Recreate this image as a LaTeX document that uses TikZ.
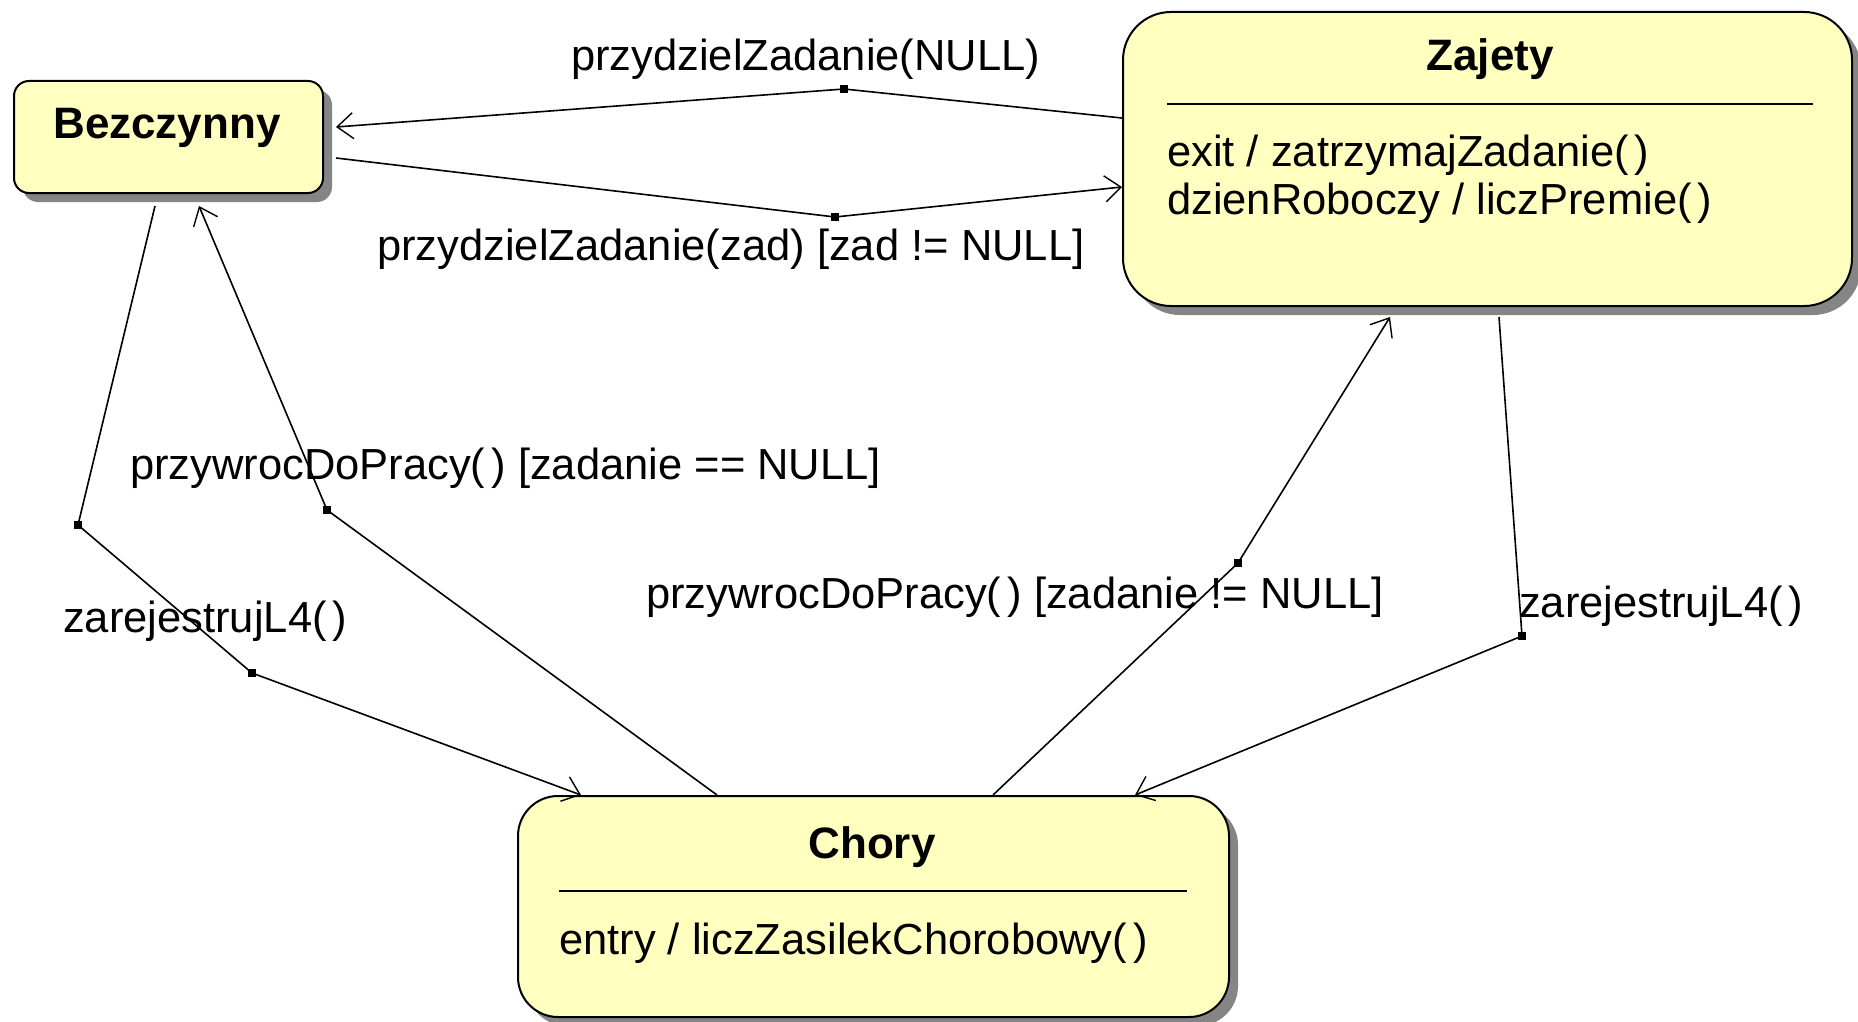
\documentclass[tikz,border=0pt]{standalone}
\usepackage{fontspec}
\setmainfont{Liberation Sans}
\usetikzlibrary{arrows.meta,shadows}
\definecolor{statefill}{HTML}{FFFFC0}
\definecolor{shadowgray}{HTML}{858585}
% empty argument list, set with a little air between the parentheses
\newcommand{\noargs}{(\kern0.14em)}
\begin{document}
\begin{tikzpicture}[x=1pt,y=-1pt,
  state/.style={rectangle, draw=black, line width=2pt, fill=statefill, inner sep=0pt,
    drop shadow={shadow xshift=9pt, shadow yshift=-9pt, fill=shadowgray, opacity=1}},
  title/.style={anchor=base, inner sep=0pt, font=\fontsize{44}{52}\selectfont\bfseries},
  body/.style={anchor=base west, inner sep=0pt, font=\fontsize{43.5}{50}\selectfont},
  trlabel/.style={anchor=base west, inner sep=0pt, font=\fontsize{43.5}{50}\selectfont},
  trans/.style={draw=black, line width=1.6pt, line join=miter},
  arr/.style={-{Straight Barb[length=16pt,width=26pt,line width=1.4pt]}},
  divider/.style={draw=black, line width=2pt},
  bendmark/.style={fill=black},
]
\useasboundingbox (0,0) rectangle (1858,1022);
\fill[white] (0,0) rectangle (1858,1022);

% states
\node[state, rounded corners=15pt, minimum width=309pt, minimum height=112pt] (bez) at (168.5,137) {};
\node[title] (bezt) at (167,139) {Bezczynny};

\node[state, rounded corners=48pt, minimum width=729pt, minimum height=294pt] (zaj) at (1487.5,159) {};
\node[title] (zajt) at (1490,71) {Zajety};
\draw[divider] (1167,104) -- (1813,104);
\node[body] (zaj1) at (1167,166) {exit / zatrzymajZadanie\noargs};
\node[body] (zaj2) at (1167,214) {dzienRoboczy / liczPremie\noargs};

\node[state, rounded corners=40pt, minimum width=711pt, minimum height=221pt] (cho) at (873.5,906.5) {};
\node[title] (chot) at (872,858) {Chory};
\draw[divider] (559,891) -- (1187,891);
\node[body] (cho1) at (559,954) {entry / liczZasilekChorobowy\noargs};

% bend points of the transitions
\coordinate (w1) at (844,89);
\coordinate (w2) at (835,217);
\coordinate (w3a) at (78,525);
\coordinate (w3b) at (252,673);
\coordinate (w4) at (327,510);
\coordinate (w5) at (1238,563);
\coordinate (w6) at (1522,636);

% transitions
\draw[trans,arr] (zaj.west |- 0,118) -- (w1) -- ([xshift=12pt]bez.east |- 0,127);
\draw[trans,arr] ([xshift=12pt]bez.east |- 0,158) -- (w2) -- (zaj.west |- 0,187);
\draw[trans,arr] ([yshift=-12pt]bez.south -| 155,0) -- (w3a) -- (w3b) -- (cho.north -| 581,0);
\draw[trans,arr] (cho.north -| 717,0) -- (w4) -- ([yshift=-12pt]bez.south -| 199,0);
\draw[trans,arr] (cho.north -| 993,0) -- (w5) -- ([yshift=-10pt]zaj.south -| 1390,0);
\draw[trans,arr] ([yshift=-10pt]zaj.south -| 1499,0) -- (w6) -- (cho.north -| 1135,0);

\foreach \w in {w1,w2,w3a,w3b,w4,w5,w6}
  \fill[bendmark] ([shift={(-4,-4)}]\w) rectangle ([shift={(4,4)}]\w);

% transition labels
\node[trlabel] (l1) at (571,71) {przydzielZadanie(NULL)};
\node[trlabel] (l2) at (377,260) {przydzielZadanie(zad) [zad != NULL]};
\node[trlabel] (l3) at (130,479) {przywrocDoPracy\noargs{} [zadanie == NULL]};
\node[trlabel] (l4) at (63,632) {zarejestrujL4\noargs};
\node[trlabel] (l5) at (646,608) {przywrocDoPracy\noargs{} [zadanie != NULL]};
\node[trlabel] (l6) at (1519,617) {zarejestrujL4\noargs};
\end{tikzpicture}
\end{document}
